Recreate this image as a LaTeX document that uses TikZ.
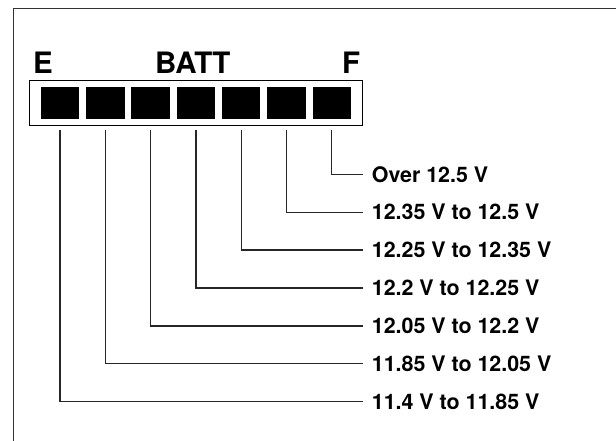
\documentclass[tikz,border=0pt]{standalone}
\usepackage{fontspec}
\setmainfont{TeX Gyre Heros}
\begin{document}
\begin{tikzpicture}[x=1pt,y=-1pt,
  frame/.style={line width=1pt,draw=black!80},
  barbox/.style={draw=black,line width=1.4pt,fill=white,minimum width=333pt,minimum height=45pt,inner sep=0pt},
  seg/.style={fill=black,draw=none,minimum width=38.5pt,minimum height=31.5pt,inner sep=0pt},
  head/.style={font=\fontsize{29.5}{30}\selectfont\bfseries,anchor=base west,inner sep=0pt},
  lab/.style={font=\fontsize{21.4}{22}\selectfont\bfseries,anchor=west,inner xsep=8.4pt,inner ysep=0pt,text height=15.4pt,text depth=0pt},
  leader/.style={line width=1.3pt,draw=black!85}]
\useasboundingbox (0,0) rectangle (616,440);
\draw[frame] (617,8) -- (13,8) -- (13,441);
\node[barbox] (bar) at (195.8,103) {};
\foreach \i in {1,...,7}{
  \node[seg] (s\i) at ({60+45.3*(\i-1)},103) {};
}
\node[head] (hE) at (32.8,73.3) {E};
\node[head] (hB) at (154.8,73.3) {BATT};
\node[head] (hF) at (342,73.3) {F};
\node[lab] (l7) at (363.3,174.3) {Over 12.5 V};
\node[lab] (l6) at (363.3,212.2) {12.35 V to 12.5 V};
\node[lab] (l5) at (363.3,250.1) {12.25 V to 12.35 V};
\node[lab] (l4) at (363.3,288.0) {12.2 V to 12.25 V};
\node[lab] (l3) at (363.3,325.9) {12.05 V to 12.2 V};
\node[lab] (l2) at (363.3,363.8) {11.85 V to 12.05 V};
\node[lab] (l1) at (363.3,401.7) {11.4 V to 11.85 V};
\foreach \i in {1,...,7}{
  \draw[leader] ([yshift=-10.6pt]s\i.south) |- (l\i.west);
}
\end{tikzpicture}
\end{document}
